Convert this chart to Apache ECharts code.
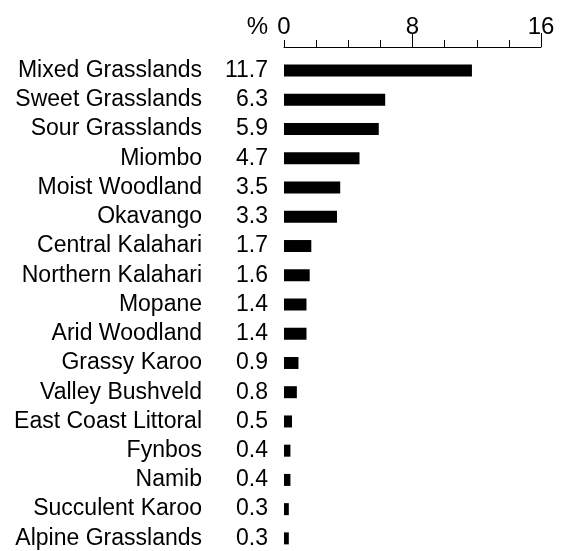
<!DOCTYPE html>
<html>
<head>
<meta charset="utf-8">
<script src="https://cdn.jsdelivr.net/npm/echarts@6/dist/echarts.min.js"></script>
<style>
  html, body { margin: 0; padding: 0; background: #fff; }
  #chart { width: 565px; height: 551px; }
</style>
</head>
<body>
<div id="chart"></div>
<script>
// Vegetation types and their share of area (%)
const categories = [
  'Mixed Grasslands', 'Sweet Grasslands', 'Sour Grasslands', 'Miombo',
  'Moist Woodland', 'Okavango', 'Central Kalahari', 'Northern Kalahari',
  'Mopane', 'Arid Woodland', 'Grassy Karoo', 'Valley Bushveld',
  'East Coast Littoral', 'Fynbos', 'Namib', 'Succulent Karoo',
  'Alpine Grasslands'
];
const shares = [
  11.7, 6.3, 5.9, 4.7, 3.5, 3.3, 1.7, 1.6, 1.4, 1.4, 0.9, 0.8, 0.5, 0.4, 0.4, 0.3, 0.3
];
const axisTicks = [0, 8, 16];
const longTicks = [8, 16];
const shortTickStep = 2;

const font = 'Liberation Sans, Arial, Helvetica, sans-serif';
const chart = echarts.init(document.getElementById('chart'), null, { renderer: 'canvas' });

const xMin = axisTicks[0];
const xMax = axisTicks[axisTicks.length - 1];

chart.setOption({
  animation: false,
  backgroundColor: '#ffffff',
  grid: {
    left: 284, top: 56, width: 257, height: 497,
    containLabel: false,
    outerBoundsMode: 'none'
  },
  xAxis: [{
    // labelled axis with the long ticks
    type: 'value',
    position: 'top',
    offset: 9,
    min: xMin,
    max: xMax,
    interval: axisTicks[1] - axisTicks[0],
    name: '%',
    nameLocation: 'start',
    nameGap: 16,
    nameTextStyle: {
      color: '#000', fontSize: 24, fontFamily: font,
      verticalAlign: 'bottom', padding: [0, 0, 8, 0]
    },
    axisLine: { show: true, lineStyle: { color: '#000', width: 1 } },
    axisTick: { show: true, length: 14, customValues: longTicks, lineStyle: { color: '#000', width: 1 } },
    axisLabel: { color: '#000', fontSize: 24, fontFamily: font, margin: 8 },
    splitLine: { show: false }
  }, {
    // short ticks every 2 %
    type: 'value',
    position: 'top',
    offset: 9,
    min: xMin,
    max: xMax,
    interval: shortTickStep,
    axisLine: { show: false },
    axisTick: { show: true, length: 7, lineStyle: { color: '#000', width: 1 } },
    axisLabel: { show: false },
    splitLine: { show: false }
  }],
  yAxis: {
    type: 'category',
    inverse: true,
    data: categories,
    axisLine: { show: false },
    axisTick: { show: false },
    splitLine: { show: false },
    axisLabel: {
      interval: 0,
      hideOverlap: false,
      margin: 16,
      color: '#000',
      fontSize: 23,
      fontFamily: font,
      formatter: function (name, idx) {
        return '{n|' + name + '}{v|' + shares[idx].toFixed(1) + '}';
      },
      rich: {
        n: { color: '#000', fontSize: 23, fontFamily: font },
        v: { color: '#000', fontSize: 23, fontFamily: font, width: 66, align: 'right' }
      }
    }
  },
  series: [{
    type: 'bar',
    xAxisIndex: 0,
    data: shares,
    barWidth: 12,
    itemStyle: { color: '#000' },
    label: { show: false }
  }]
});
</script>
</body>
</html>
